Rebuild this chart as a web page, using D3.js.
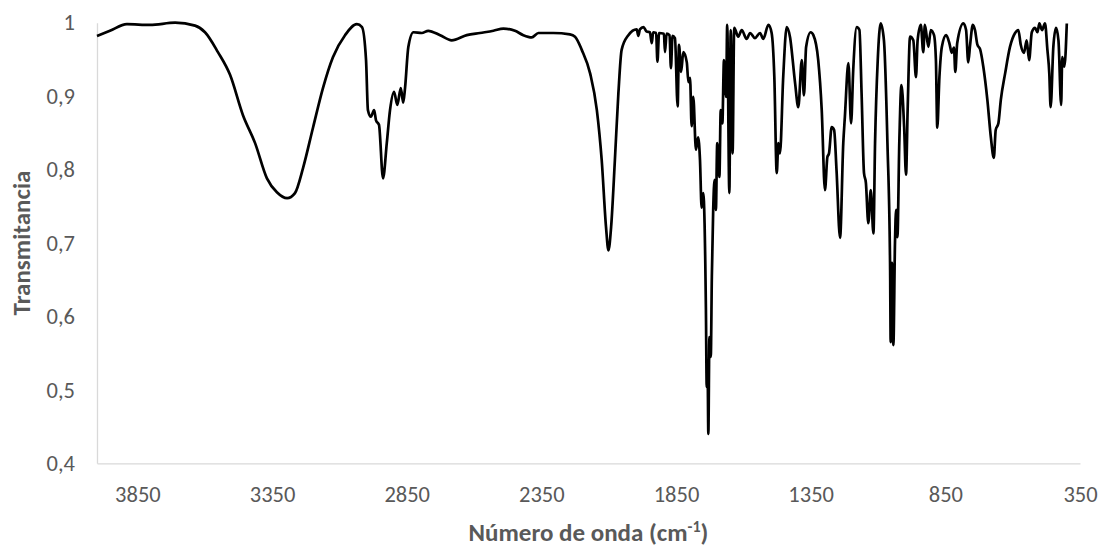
<!DOCTYPE html>
<html>
<head>
<meta charset="utf-8">
<script src="https://cdn.jsdelivr.net/npm/d3@7"></script>
<style>
  body { margin: 0; background: #fff; }
  svg text { font-family: Carlito, Calibri, Lato, sans-serif; }
</style>
</head>
<body>
<svg id="chart" width="1102" height="549"></svg>
<script>
// IR spectrum (cm-1 and transmittance)
var wavenumber = [4000,3952,3889,3803,3710,3636,3599,3551,3506,3458,3413,3369,3332,3294,3265,3235,3198,3161,3124,3079,
  3035,3016,3001,2994,2983,2971,2964,2953,2938,2924,2912,2897,2885,2872,2863,2856,2844,2825,2794,2770,
  2726,2683,2627,2578,2528,2491,2448,2417,2386,2361,2306,2244,2225,2200,2169,2144,2126,2110,2101,2091,
  2077,2064,2052,2027,1996,1990,1984,1971,1959,1947,1940,1935,1924,1919,1913,1895,1891,1885,1874,1869,
  1863,1854,1844,1839,1831,1823,1810,1804,1798,1792,1786,1776,1768,1761,1755,1749,1739,1736,1733,1730,
  1726,1721,1717,1712,1707,1702,1697,1689,1684,1678,1672,1664,1660,1652,1647,1640,1634,1619,1606,1588,
  1575,1557,1538,1526,1507,1495,1485,1476,1470,1464,1452,1439,1427,1408,1396,1383,1375,1367,1350,1340,
  1322,1309,1297,1288,1282,1272,1263,1254,1241,1229,1223,1210,1200,1192,1179,1169,1161,1152,1145,1136,
  1127,1117,1111,1101,1090,1078,1065,1055,1053,1048,1043,1037,1033,1028,1021,1013,1003,996,990,981,
  969,959,953,941,932,926,913,904,892,885,880,872,863,847,835,826,818,813,806,783,
  773,765,758,748,740,731,721,709,694,681,670,663,653,644,628,610,591,579,570,558,
  548,539,529,517,508,501,491,480,471,464,459,449,439,430,420,416,408,399];
var transmitancia = [0.982,0.989,0.998,0.997,1.000,0.996,0.987,0.960,0.929,0.874,0.836,0.788,0.769,0.761,0.768,0.802,0.857,0.911,0.953,0.983,
  0.998,0.994,0.949,0.881,0.872,0.881,0.867,0.861,0.788,0.836,0.881,0.906,0.888,0.911,0.891,0.912,0.967,0.987,0.986,0.989,
  0.983,0.976,0.983,0.986,0.989,0.992,0.989,0.983,0.980,0.986,0.986,0.984,0.981,0.963,0.931,0.881,0.813,0.722,0.690,0.722,
  0.813,0.904,0.963,0.983,0.991,0.982,0.991,0.994,0.988,0.987,0.972,0.987,0.986,0.947,0.986,0.985,0.960,0.985,0.983,0.938,
  0.982,0.979,0.886,0.970,0.933,0.960,0.946,0.919,0.925,0.859,0.899,0.827,0.844,0.813,0.748,0.768,0.609,0.504,0.540,0.440,
  0.572,0.545,0.654,0.745,0.786,0.745,0.836,0.790,0.881,0.863,0.949,0.899,0.997,0.768,0.990,0.822,0.993,0.981,0.990,0.978,
  0.986,0.979,0.986,0.978,0.997,0.986,0.926,0.795,0.836,0.822,0.926,0.994,0.981,0.918,0.885,0.949,0.901,0.967,0.987,0.983,
  0.949,0.881,0.772,0.817,0.822,0.858,0.854,0.799,0.707,0.836,0.872,0.945,0.863,0.936,0.994,0.990,0.904,0.795,0.782,0.727,
  0.772,0.713,0.836,0.949,0.999,0.976,0.836,0.663,0.565,0.673,0.561,0.700,0.745,0.708,0.836,0.915,0.858,0.793,0.881,0.981,
  0.976,0.926,0.976,0.997,0.960,0.997,0.967,0.990,0.983,0.949,0.857,0.926,0.967,0.983,0.972,0.959,0.966,0.933,0.972,0.999,
  0.990,0.946,0.970,0.997,0.990,0.970,0.964,0.940,0.895,0.844,0.816,0.854,0.863,0.895,0.931,0.967,0.986,0.990,0.970,0.959,
  0.976,0.949,0.987,0.993,0.987,0.999,0.990,0.999,0.963,0.931,0.885,0.967,0.993,0.976,0.888,0.953,0.940,0.999];

var xTicks = [3850, 3350, 2850, 2350, 1850, 1350, 850, 350];
var yTicks = [0.4, 0.5, 0.6, 0.7, 0.8, 0.9, 1];

var margin = {top: 22.7, right: 22, bottom: 85.7, left: 97};
var svg = d3.select('#chart');
var W = +svg.attr('width'), H = +svg.attr('height');

var x = d3.scaleLinear().domain([4000, 350]).range([margin.left, W - margin.right]);
var y = d3.scaleLinear().domain([0.4, 1]).range([H - margin.bottom, margin.top]);

function fmt(d){ return d === 1 ? '1' : d.toFixed(1).replace('.', ','); }

var gx = svg.append('g')
  .attr('transform', 'translate(0,' + y(0.4) + ')')
  .call(d3.axisBottom(x).tickValues(xTicks).tickSize(0).tickPadding(23).tickFormat(d3.format('d')));
var gy = svg.append('g')
  .attr('transform', 'translate(' + margin.left + ',0)')
  .call(d3.axisLeft(y).tickValues(yTicks).tickSize(0).tickPadding(22).tickFormat(fmt));

[gx, gy].forEach(function(g){
  g.select('.domain').attr('stroke', '#d9d9d9').attr('stroke-width', 1.3);
  g.selectAll('text').attr('fill', '#595959').style('font-size', '22.5px');
});

var pts = wavenumber.map(function(w, i){ return [w, transmitancia[i]]; });
var line = d3.line()
  .curve(d3.curveMonotoneX)
  .x(function(d){ return x(d[0]); })
  .y(function(d){ return y(d[1]); });

svg.append('path')
  .datum(pts)
  .attr('d', line)
  .attr('fill', 'none')
  .attr('stroke', '#000')
  .attr('stroke-width', 2.7)
  .attr('stroke-linejoin', 'round');

// axis titles
svg.append('text')
  .attr('transform', 'translate(21,' + (y(0.7)) + ') rotate(-90)')
  .attr('text-anchor', 'middle')
  .attr('dy', '0.35em')
  .attr('fill', '#595959')
  .style('font-size', '25px')
  .style('font-weight', 'bold')
  .text('Transmitancia');

var xt = svg.append('text')
  .attr('x', (x(4000) + x(350)) / 2)
  .attr('y', 541)
  .attr('text-anchor', 'middle')
  .attr('fill', '#595959')
  .style('font-size', '25px')
  .style('font-weight', 'bold');
xt.append('tspan').text('Número de onda (cm');
xt.append('tspan').attr('dy', -9).style('font-size', '16px').text('-1');
xt.append('tspan').attr('dy', 9).text(')');
</script>
</body>
</html>
